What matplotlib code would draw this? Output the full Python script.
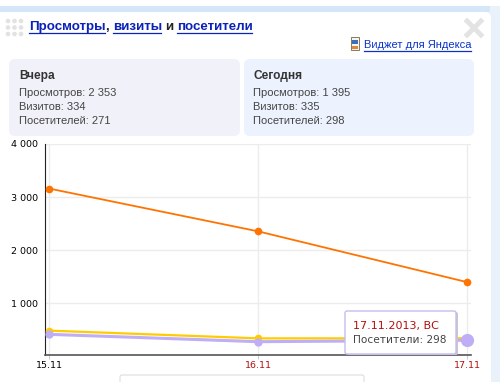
import matplotlib
matplotlib.use('Agg')
import matplotlib.pyplot as plt
from matplotlib.patches import FancyBboxPatch, Rectangle, Circle

days = ['15.11', '16.11', '17.11']
views = [3160, 2353, 1395]
visits = [480, 334, 335]
visitors = [410, 271, 298]
y_ticks = [1000, 2000, 3000, 4000]
y_labels = ['1 000', '2 000', '3 000', '4 000']

yesterday = ['Просмотров: 2 353', 'Визитов: 334', 'Посетителей: 271']
today = ['Просмотров: 1 395', 'Визитов: 335', 'Посетителей: 298']

plt.rcParams['font.family'] = ['Liberation Sans', 'DejaVu Sans']

W, H = 500, 382
fig = plt.figure(figsize=(W / 100, H / 100), dpi=100, facecolor='#e9f2fb')

# page chrome in pixel coordinates
bg = fig.add_axes([0, 0, 1, 1])
bg.set_xlim(0, W)
bg.set_ylim(H, 0)
bg.axis('off')


def box(x, y, w, h, r, fc, ec='none', lw=0, z=1):
    bg.add_patch(FancyBboxPatch((x + r, y + r), w - 2 * r, h - 2 * r,
                                boxstyle='round,pad=%d' % r, fc=fc, ec=ec, lw=lw, zorder=z))


def link(x, y, s, x2, size=9.6, weight='bold', color='#0a22b8'):
    bg.text(x, y, s, color=color, fontsize=size, fontweight=weight, va='center', zorder=3)
    bg.plot([x, x2], [y + 5.5, y + 5.5], color=color, lw=0.9, zorder=3)


bg.add_patch(Rectangle((0, 0), W, 6, fc='#ffffff', ec='none', zorder=0))
bg.add_patch(Rectangle((0, 6), 490, 6, fc='#d5e6f8', ec='none', zorder=0))
box(-10, 12, 501, 380, 6, '#ffffff')
box(9, 59, 231, 77, 6, '#f1f1fa', z=2)
box(244, 59, 230, 77, 6, '#ecf3fe', z=2)

# drag dots
for i in range(3):
    for j in range(3):
        bg.add_patch(Circle((8 + i * 6.5, 21 + j * 6.5), 2.3, fc='#e2e2e2', ec='none', zorder=2))

# title with links
link(29, 27, 'Просмотры', 105)
bg.text(105.5, 27, ',', color='#222222', fontsize=9.6, fontweight='bold', va='center', zorder=3)
link(113, 27, 'визиты', 161)
bg.text(165, 27, 'и', color='#222222', fontsize=9.6, fontweight='bold', va='center', zorder=3)
link(177, 27, 'посетители', 252)

# close cross
bg.plot([467, 481], [21, 35], color='#e3e3e3', lw=3.5, zorder=3)
bg.plot([467, 481], [35, 21], color='#e3e3e3', lw=3.5, zorder=3)

# widget link
bg.add_patch(Rectangle((351, 37), 8, 13, fc='#f4f4f4', ec='#8a7a5a', lw=0.7, zorder=3))
bg.add_patch(Rectangle((352, 40), 6, 4, fc='#3f6fb5', ec='none', zorder=4))
bg.add_patch(Rectangle((352, 46), 6, 3, fc='#d98a3a', ec='none', zorder=4))
link(364, 45.5, 'Виджет для Яндекса', 471, size=8, weight='normal', color='#0a32c8')

# summary cards
bg.text(19, 75.5, 'Вчера', color='#333333', fontsize=8.6, fontweight='bold', va='center', zorder=3)
bg.text(253, 75.5, 'Сегодня', color='#333333', fontsize=8.6, fontweight='bold', va='center', zorder=3)
for k in range(3):
    bg.text(19, 93.5 + k * 14, yesterday[k], color='#444444', fontsize=8, va='center', zorder=3)
    bg.text(253, 93.5 + k * 14, today[k], color='#444444', fontsize=8, va='center', zorder=3)

# the chart
left, right, top, bottom = 45, 471, 144, 355
ax = fig.add_axes([left / W, 1 - bottom / H, (right - left) / W, (bottom - top) / H])
ax.patch.set_alpha(0)
ax.set_xlim(-0.0096, 1.0096)
ax.set_ylim(20, 4000)
x = [0, 0.5, 1]
ax.plot(x, visits, color='#ffcc00', lw=1.6, marker='o', ms=4.5, clip_on=False, zorder=3)
ax.plot(x, visitors, color='#bfaef5', lw=2.2, marker='o', ms=5, clip_on=False, zorder=4)
ax.plot(x, views, color='#ff7300', lw=1.3, marker='o', ms=4.5, clip_on=False, zorder=5)
ax.plot(x[2], visitors[2], 'o', color='#bfaef5', ms=8.5, clip_on=False, zorder=6)

ax.set_xticks(x)
ax.set_xticklabels(days, fontsize=6.8, family=['DejaVu Sans'])
ax.get_xticklabels()[1].set_color('#b01010')
ax.get_xticklabels()[2].set_color('#b01010')
ax.set_yticks(y_ticks)
ax.set_yticklabels(y_labels, fontsize=6.8, family=['DejaVu Sans'])
ax.tick_params(axis='y', length=0, pad=5)
ax.tick_params(axis='x', length=3, color='#cccccc', pad=1)
ax.grid(color='#ececec', lw=1)
ax.set_axisbelow(True)
for s in ['top', 'right']:
    ax.spines[s].set_visible(False)
ax.spines['left'].set_color('#222222')
ax.spines['left'].set_linewidth(0.8)
ax.spines['bottom'].set_color('#555555')
ax.spines['bottom'].set_linewidth(1.2)

# tooltip and the panel edge under the chart, above the chart axes
top_ax = fig.add_axes([0, 0, 1, 1])
top_ax.set_xlim(0, W)
top_ax.set_ylim(H, 0)
top_ax.axis('off')
top_ax.add_patch(FancyBboxPatch((349, 314), 107, 39, boxstyle='round,pad=2', fc='#c8c8c8', ec='none', zorder=1))
top_ax.add_patch(FancyBboxPatch((347, 313), 107, 39, boxstyle='round,pad=2', fc='#ffffff', ec='#c5bdf0', lw=1, zorder=2))
top_ax.text(353, 325.5, '17.11.2013, ВС', color='#b01010', fontsize=8, family=['DejaVu Sans'], va='center', zorder=3)
top_ax.text(353, 340, 'Посетители: 298', color='#444444', fontsize=7.6, family=['DejaVu Sans'], va='center', zorder=3)
top_ax.add_patch(FancyBboxPatch((122, 377), 240, 12, boxstyle='round,pad=2', fc='#ffffff', ec='#dddddd', lw=0.8, zorder=2))

fig.savefig('out.png', dpi=100)
